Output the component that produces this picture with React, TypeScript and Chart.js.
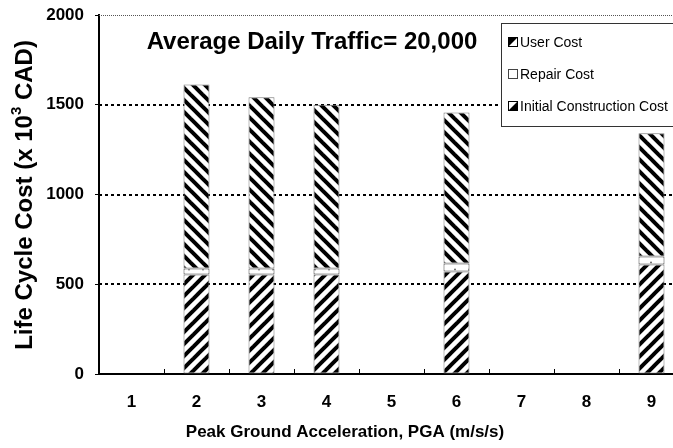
import React, { useEffect, useRef } from 'react';
import { Chart, registerables } from 'chart.js';
Chart.register(...registerables);

const categories = ['1', '2', '3', '4', '5', '6', '7', '8', '9'];
const initialCost = [null, 554, 554, 554, null, 571, null, null, 610];
const repairCost = [null, 34, 34, 34, null, 45, null, null, 45];
const userCost = [null, 1025, 954, 912, null, 841, null, null, 686];
const yTicks = [0, 500, 1000, 1500, 2000];
const chartTitle = 'Average Daily Traffic= 20,000';
const xTitle = 'Peak Ground Acceleration, PGA (m/s/s)';
const yTitleParts = ['Life Cycle Cost (x 10', '3', ' CAD)'];
const legendLabels = ['User Cost', 'Repair Cost', 'Initial Construction Cost'];

const FAMILY = '"Liberation Sans", Arial, Helvetica, sans-serif';

function stripePattern(dir: number) {
  const s = 12;
  const c = document.createElement('canvas');
  c.width = s;
  c.height = s;
  const g = c.getContext('2d')!;
  g.fillStyle = '#fff';
  g.fillRect(0, 0, s, s);
  g.strokeStyle = '#000';
  g.lineWidth = 4;
  for (const o of [-s, 0, s]) {
    g.beginPath();
    if (dir === 1) {
      g.moveTo(o - 2, s + 2);
      g.lineTo(o + s + 2, -2);
    } else {
      g.moveTo(o - 2, -2);
      g.lineTo(o + s + 2, s + 2);
    }
    g.stroke();
  }
  return g.createPattern(c, 'repeat')!;
}

function dotPattern() {
  const c = document.createElement('canvas');
  c.width = 14;
  c.height = 7;
  const g = c.getContext('2d')!;
  g.fillStyle = '#fff';
  g.fillRect(0, 0, 14, 7);
  g.fillStyle = '#666';
  g.beginPath();
  g.arc(7, 3.5, 1, 0, Math.PI * 2);
  g.fill();
  return g.createPattern(c, 'repeat')!;
}

const gridPlugin = {
  id: 'dottedGrid',
  beforeDatasetsDraw(chart: any) {
    const { ctx, chartArea, scales } = chart;
    const y = scales.y;
    ctx.save();
    for (const v of yTicks) {
      if (v === 0) continue;
      const py = y.getPixelForValue(v);
      ctx.beginPath();
      if (v === 2000) {
        ctx.strokeStyle = '#555';
        ctx.lineWidth = 1;
        ctx.setLineDash([1, 1]);
        ctx.moveTo(chartArea.left, Math.round(py) + 0.5);
        ctx.lineTo(chartArea.right, Math.round(py) + 0.5);
      } else {
        ctx.strokeStyle = '#000';
        ctx.lineWidth = 2;
        ctx.setLineDash([3, 3]);
        ctx.moveTo(chartArea.left, Math.round(py));
        ctx.lineTo(chartArea.right, Math.round(py));
      }
      ctx.stroke();
    }
    ctx.restore();
  },
};

const decorPlugin = {
  id: 'decor',
  afterDraw(chart: any) {
    const { ctx, chartArea, scales } = chart;
    const x = scales.x;
    ctx.save();
    // inward ticks at category boundaries
    ctx.strokeStyle = '#000';
    ctx.lineWidth = 1;
    for (let i = 0; i < categories.length - 1; i++) {
      const px = (x.getPixelForValue(i) + x.getPixelForValue(i + 1)) / 2;
      ctx.beginPath();
      ctx.moveTo(Math.round(px) + 0.5, chartArea.bottom);
      ctx.lineTo(Math.round(px) + 0.5, chartArea.bottom - 5);
      ctx.stroke();
    }
    // chart title
    ctx.fillStyle = '#000';
    ctx.textAlign = 'center';
    ctx.textBaseline = 'middle';
    ctx.font = `bold 24px ${FAMILY}`;
    ctx.fillText(chartTitle, 312, 42);
    // x title
    ctx.font = `bold 17px ${FAMILY}`;
    ctx.fillText(xTitle, 345, 432);
    // y title with superscript
    ctx.save();
    ctx.translate(25, 195);
    ctx.rotate(-Math.PI / 2);
    const mainFont = `bold 24px ${FAMILY}`;
    const supFont = `bold 15px ${FAMILY}`;
    ctx.font = mainFont;
    const w1 = ctx.measureText(yTitleParts[0]).width;
    const w3 = ctx.measureText(yTitleParts[2]).width;
    ctx.font = supFont;
    const w2 = ctx.measureText(yTitleParts[1]).width;
    const total = w1 + w2 + w3;
    let cx = -total / 2;
    ctx.textAlign = 'left';
    ctx.font = mainFont;
    ctx.fillText(yTitleParts[0], cx, 0);
    cx += w1;
    ctx.font = supFont;
    ctx.fillText(yTitleParts[1], cx, -8);
    cx += w2;
    ctx.font = mainFont;
    ctx.fillText(yTitleParts[2], cx, 0);
    ctx.restore();
    // legend
    const lx = 501.5, ly = 23.5, lw = 220, lh = 103;
    ctx.fillStyle = '#fff';
    ctx.fillRect(lx, ly, lw, lh);
    ctx.strokeStyle = '#333';
    ctx.lineWidth = 1;
    ctx.strokeRect(lx, ly, lw, lh);
    const itemY = [42, 74, 106];
    ctx.font = `14px ${FAMILY}`;
    ctx.textAlign = 'left';
    ctx.textBaseline = 'middle';
    legendLabels.forEach((lab, i) => {
      const iy = itemY[i];
      const bx = 508.5, by = iy - 4.5, bs = 9;
      ctx.fillStyle = '#fff';
      ctx.fillRect(bx, by, bs, bs);
      ctx.fillStyle = '#000';
      if (i === 0) {
        ctx.beginPath();
        ctx.moveTo(bx, by);
        ctx.lineTo(bx + bs, by);
        ctx.lineTo(bx, by + bs);
        ctx.closePath();
        ctx.fill();
      } else if (i === 2) {
        ctx.beginPath();
        ctx.moveTo(bx + bs, by);
        ctx.lineTo(bx + bs, by + bs);
        ctx.lineTo(bx, by + bs);
        ctx.closePath();
        ctx.fill();
      }
      ctx.strokeStyle = i === 1 ? '#444' : '#000';
      ctx.strokeRect(bx, by, bs, bs);
      ctx.fillStyle = '#000';
      ctx.fillText(lab, 520, iy + 1);
    });
    ctx.restore();
  },
};

export default function App() {
  const ref = useRef<HTMLCanvasElement>(null);
  useEffect(() => {
    const canvas = ref.current!;
    const up = stripePattern(1);
    const down = stripePattern(-1);
    const dots = dotPattern();
    const tickFont = { family: FAMILY, size: 17, weight: 'bold' as const };
    const chart = new Chart(canvas, {
      type: 'bar',
      data: {
        labels: categories,
        datasets: [
          { label: legendLabels[2], data: initialCost as any, backgroundColor: up, borderColor: '#777', borderWidth: 1, borderSkipped: false },
          { label: legendLabels[1], data: repairCost as any, backgroundColor: dots, borderColor: '#444', borderWidth: 1, borderSkipped: false },
          { label: legendLabels[0], data: userCost as any, backgroundColor: down, borderColor: '#777', borderWidth: 1, borderSkipped: false },
        ],
      },
      options: {
        animation: false,
        responsive: false,
        devicePixelRatio: 1,
        layout: { padding: { top: 15, right: 0, left: 0, bottom: 0 } },
        datasets: { bar: { barPercentage: 0.4, categoryPercentage: 1 } },
        plugins: { legend: { display: false }, tooltip: { enabled: false }, title: { display: false } },
        scales: {
          x: {
            stacked: true,
            grid: { display: false },
            border: { display: true, color: '#000', width: 2 },
            ticks: { font: tickFont, color: '#000', padding: 10, maxRotation: 0 },
            afterFit: (s: any) => { s.height = 74; s.paddingLeft = 0; s.paddingRight = 0; },
          },
          y: {
            stacked: true,
            min: 0,
            max: 2000,
            afterBuildTicks: (s: any) => { s.ticks = yTicks.map((v) => ({ value: v })); },
            ticks: { font: tickFont, color: '#000', padding: 11, callback: (v: any) => String(v) },
            grid: { drawOnChartArea: false, drawTicks: true, tickLength: 4, tickColor: '#000', tickWidth: 1 },
            border: { display: true, color: '#000', width: 2 },
            afterFit: (s: any) => { s.width = 99; s.paddingTop = 0; s.paddingBottom = 0; },
          },
        },
      },
      plugins: [gridPlugin, decorPlugin],
    });
    return () => chart.destroy();
  }, []);
  return (
    <div style={{ position: 'fixed', left: 0, top: 0, width: 673, height: 448, overflow: 'hidden', background: '#fff' }}>
      <canvas ref={ref} width={684} height={448} style={{ display: 'block', width: 684, height: 448 }} />
    </div>
  );
}
